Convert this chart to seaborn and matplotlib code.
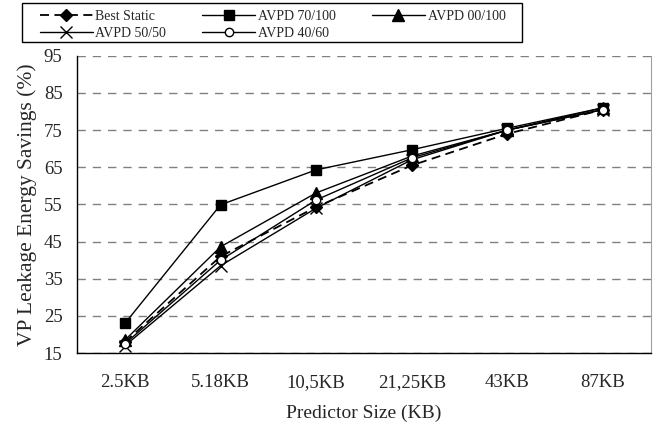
import matplotlib
matplotlib.use("Agg")
import matplotlib.pyplot as plt
import seaborn as sns
import pandas as pd
from matplotlib.patches import Rectangle
from matplotlib.ticker import FixedLocator

# Predictor sizes (x categories)
sizes = ["2.5KB", "5.18KB", "10,5KB", "21,25KB", "43KB", "87KB"]

# Leakage energy savings (%)
best_static = [18.0, 41.0, 54.3, 65.5, 74.0, 80.5]
avpd_70_100 = [23.0, 54.9, 64.3, 69.7, 75.5, 81.0]
avpd_00_100 = [18.5, 43.6, 58.1, 68.0, 75.0, 81.0]
avpd_50_50 = [17.0, 38.5, 54.0, 67.0, 75.0, 80.5]
avpd_40_60 = [17.5, 40.0, 56.2, 67.5, 75.0, 80.5]

series = {
    "Best Static": best_static,
    "AVPD 70/100": avpd_70_100,
    "AVPD 00/100": avpd_00_100,
    "AVPD 50/50": avpd_50_50,
    "AVPD 40/60": avpd_40_60,
}

styles = {
    "Best Static": dict(marker="D", linestyle=(0, (5, 3)), markersize=6, markerfacecolor="black", lw=1.3),
    "AVPD 70/100": dict(marker="s", linestyle="-", markersize=7, markerfacecolor="black", lw=1.0),
    "AVPD 00/100": dict(marker="^", linestyle="-", markersize=8, markerfacecolor="black", lw=1.0),
    "AVPD 50/50": dict(marker="x", linestyle="-", markersize=8, markerfacecolor="black", lw=1.0, markeredgewidth=1.0),
    "AVPD 40/60": dict(marker="o", linestyle="-", markersize=6, markerfacecolor="white", lw=1.0),
}

sns.set_style("white")
plt.rcParams["font.family"] = ["Liberation Serif", "DejaVu Serif"]

fig, ax = plt.subplots(figsize=(6.54, 4.29), dpi=100)
fig.subplots_adjust(left=0.118, right=0.995, top=0.87, bottom=0.177)

handles = {}
for name, vals in series.items():
    df = pd.DataFrame({"size": sizes, "saving": vals})
    st = styles[name]
    sns.lineplot(data=df, x="size", y="saving", ax=ax, color="black", sort=False,
                 marker=st["marker"], linestyle=st["linestyle"], markersize=st["markersize"],
                 markerfacecolor=st["markerfacecolor"], markeredgecolor="black",
                 markeredgewidth=st.get("markeredgewidth", 1.0), lw=st["lw"], label=name)
    handles[name] = ax.lines[-1]

if ax.get_legend() is not None:
    ax.get_legend().remove()

ax.set_ylim(15, 95)
ax.set_xlim(-0.5, len(sizes) - 0.5)
ax.set_yticks(range(15, 96, 10))
ax.yaxis.grid(True, linestyle=(0, (6, 5)), color="#808080", lw=1.0)
ax.xaxis.grid(False)

# category boundary ticks (Excel style)
ax.xaxis.set_minor_locator(FixedLocator([i - 0.5 for i in range(len(sizes) + 1)]))
ax.tick_params(axis="x", which="major", length=0, labelsize=13.5, pad=15)
ax.tick_params(axis="x", which="minor", length=6, width=1, color="black", direction="out")
ax.tick_params(axis="y", length=6, width=1, color="black", direction="inout", labelsize=13.5, pad=7.5)

for s in ["left", "bottom"]:
    ax.spines[s].set_color("black")
    ax.spines[s].set_linewidth(1.0)
ax.spines["right"].set_color("#a0a0a0")
ax.spines["top"].set_visible(False)

ax.set_xlabel("Predictor Size (KB)", fontsize=14, labelpad=10)
ax.set_ylabel("VP Leakage Energy Savings (%)", fontsize=15.5, labelpad=5)

# legend (row-major order like the original) with a separate box around it
order = ["Best Static", "AVPD 50/50", "AVPD 70/100", "AVPD 40/60", "AVPD 00/100"]
fig.legend([handles[n] for n in order], order, ncol=3, loc="upper left",
           bbox_to_anchor=(0.061, 0.976), frameon=False, fontsize=10,
           handlelength=3.8, borderaxespad=0, borderpad=0,
           columnspacing=2.6, labelspacing=0.25, handletextpad=0.2)
fig.patches.append(Rectangle((0.0336, 0.902), 0.7645, 0.0909, transform=fig.transFigure,
                             fill=False, edgecolor="black", lw=1.0, figure=fig))

fig.savefig("out.png", dpi=100)
